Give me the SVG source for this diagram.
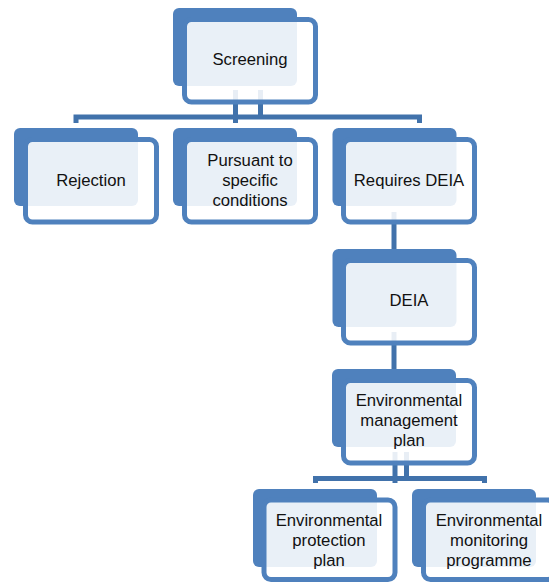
<svg xmlns="http://www.w3.org/2000/svg" width="549" height="582" viewBox="0 0 549 582">
  <style>
    .back { fill: #4F81BD; }
    .front { fill: #FFFFFF; fill-opacity: 0.88; stroke: #4F81BD; stroke-width: 5; }
    .conn { fill: none; stroke: #4172AB; stroke-width: 5; stroke-linejoin: miter; stroke-linecap: butt; }
    .label { font-family: "Liberation Sans", Arial, sans-serif; font-size: 16.7px; fill: #111111; text-anchor: middle; }
  </style>
  <rect width="549" height="582" fill="#FFFFFF"/>
  <g id="connectors">
    <path class="conn" d="M76,123 V117 H419.5 V123"/>
    <path class="conn" d="M235.5,90 V123"/>
    <path class="conn" d="M260.5,90 V119"/>
    <path class="conn" d="M394,212 V250"/>
    <path class="conn" d="M394,332 V370"/>
    <path class="conn" d="M315.5,483 V478.5 H484.5 V483"/>
    <path class="conn" d="M395,452 V483"/>
    <path class="conn" d="M406.5,452 V481"/>
  </g>
  <g id="screening">
    <rect class="back" x="173" y="8" width="124" height="78" rx="6"/>
    <rect class="front" x="184.5" y="19.5" width="131" height="82.5" rx="7"/>
    <text class="label" x="250" y="65">Screening</text>
  </g>
  <g id="rejection">
    <rect class="back" x="14" y="128" width="124" height="78" rx="6"/>
    <rect class="front" x="25.5" y="139.5" width="131" height="82.5" rx="7"/>
    <text class="label" x="91" y="186">Rejection</text>
  </g>
  <g id="pursuant">
    <rect class="back" x="173" y="128" width="124" height="78" rx="6"/>
    <rect class="front" x="184.5" y="139.5" width="131" height="82.5" rx="7"/>
    <text class="label" x="250" y="166">Pursuant to</text>
    <text class="label" x="250" y="186">specific</text>
    <text class="label" x="250" y="206">conditions</text>
  </g>
  <g id="requires-deia">
    <rect class="back" x="332.5" y="128" width="124" height="78" rx="6"/>
    <rect class="front" x="343.5" y="139.5" width="131" height="82.5" rx="7"/>
    <text class="label" x="409" y="186">Requires DEIA</text>
  </g>
  <g id="deia">
    <rect class="back" x="332.5" y="249" width="124" height="78" rx="6"/>
    <rect class="front" x="343.5" y="260.5" width="131" height="82.5" rx="7"/>
    <text class="label" x="409" y="306">DEIA</text>
  </g>
  <g id="emp">
    <rect class="back" x="332" y="369" width="124" height="78" rx="6"/>
    <rect class="front" x="343.5" y="380.5" width="131" height="82.5" rx="7"/>
    <text class="label" x="409" y="406">Environmental</text>
    <text class="label" x="409" y="426">management</text>
    <text class="label" x="409" y="446">plan</text>
  </g>
  <g id="epp">
    <rect class="back" x="253" y="489" width="124" height="78" rx="6"/>
    <rect class="front" x="264" y="500" width="131" height="79.5" rx="7"/>
    <text class="label" x="329" y="526">Environmental</text>
    <text class="label" x="329" y="546">protection</text>
    <text class="label" x="329" y="566">plan</text>
  </g>
  <g id="emonp">
    <rect class="back" x="412" y="489" width="124" height="78" rx="6"/>
    <rect class="front" x="423.5" y="500" width="131" height="79.5" rx="7"/>
    <text class="label" x="489" y="526">Environmental</text>
    <text class="label" x="489" y="546">monitoring</text>
    <text class="label" x="489" y="566">programme</text>
  </g>
</svg>
